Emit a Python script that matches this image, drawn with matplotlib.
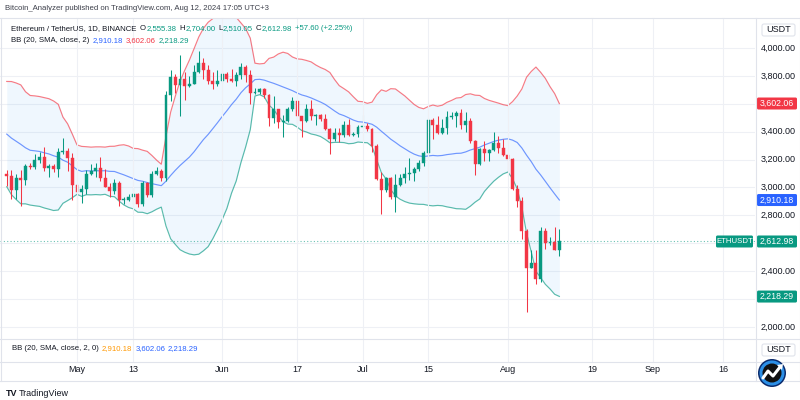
import matplotlib
matplotlib.use('Agg')
import matplotlib.pyplot as plt
import matplotlib.dates as mdates
import matplotlib.font_manager as fm
import matplotlib.transforms as mtransforms
from matplotlib.patches import FancyBboxPatch, Circle, Polygon
import numpy as np
import pandas as pd

available = {f.name for f in fm.fontManager.ttflist}
FONT = 'Liberation Sans Narrow' if 'Liberation Sans Narrow' in available else 'Liberation Sans'
NARROW = FONT == 'Liberation Sans Narrow'
plt.rcParams['font.family'] = [FONT, 'DejaVu Sans']

# ---------------- data ----------------
# closes before the first visible candle (needed for the 20-day Bollinger Bands)
prior_closes = [3560, 3510, 3505, 3645, 3505, 3280, 3310, 3330, 3320, 3390,
                3455, 3700, 3505, 3545, 3505, 3240, 3005, 3160, 3100]
first_day = '2024-04-16'
opens = [3100, 3085, 2985, 3065, 3055, 3155, 3147, 3200, 3220, 3140, 3155, 3130, 3255, 3265, 3215,
         3015, 2970, 2990, 3100, 3120, 3140, 3065, 3005, 2975, 3035, 2910, 2912, 2930, 2950, 2880,
         3035, 2945, 3095, 3120, 3070, 3660, 3790, 3735, 3780, 3725, 3745, 3825, 3890, 3840, 3765, 3745,
         3760, 3815, 3780, 3765, 3810, 3865, 3810, 3680, 3685, 3705, 3665, 3500, 3560, 3470, 3480,
         3565, 3620, 3510, 3480, 3560, 3515, 3520, 3490, 3420, 3350, 3390, 3375, 3445, 3375, 3380,
         3435, 3440, 3420, 3295, 3060, 2980, 3065, 2930, 3020, 3065, 3100, 3102, 3135, 3175, 3245,
         3485, 3445, 3390, 3425, 3505, 3515, 3535, 3445, 3480, 3335, 3170, 3275, 3250, 3270, 3320, 3280,
         3230, 3205, 2990, 2905, 2690, 2420, 2460, 2345, 2685, 2600, 2610, 2555.38]
highs = [3125, 3125, 3095, 3125, 3170, 3175, 3240, 3255, 3290, 3170, 3165, 3285, 3355, 3285, 3250,
         3025, 3020, 3125, 3170, 3175, 3220, 3130, 3030, 3060, 3050, 2935, 2955, 2995, 2960, 3045,
         3040, 3120, 3145, 3130, 3690, 3840, 3815, 3950, 3830, 3800, 3880, 3975, 3925, 3880, 3825, 3845,
         3835, 3830, 3850, 3830, 3890, 3880, 3840, 3710, 3715, 3715, 3670, 3655, 3560, 3520, 3580,
         3650, 3620, 3515, 3595, 3625, 3530, 3525, 3525, 3430, 3430, 3425, 3480, 3490, 3400, 3445,
         3520, 3460, 3430, 3310, 3110, 3075, 3075, 3100, 3095, 3145, 3210, 3150, 3200, 3260, 3500,
         3500, 3515, 3490, 3545, 3540, 3545, 3560, 3540, 3500, 3340, 3285, 3330, 3275, 3400, 3370, 3350,
         3245, 3215, 3015, 2935, 2700, 2555, 2550, 2720, 2710, 2645, 2720, 2704]
lows = [3010, 2920, 2915, 2865, 3020, 3130, 3130, 3175, 3120, 3075, 3110, 3075, 3240, 3115, 2910,
        2815, 2890, 2955, 3090, 3075, 3050, 3000, 2935, 2950, 2870, 2880, 2900, 2880, 2860, 2865,
        2930, 2930, 3090, 3050, 3050, 3620, 3680, 3510, 3630, 3720, 3740, 3820, 3775, 3740, 3705, 3725,
        3750, 3755, 3755, 3730, 3780, 3755, 3600, 3670, 3670, 3645, 3440, 3465, 3430, 3360, 3470,
        3545, 3465, 3360, 3470, 3485, 3445, 3480, 3415, 3240, 3335, 3325, 3365, 3370, 3370, 3365,
        3425, 3405, 3255, 3055, 2810, 2965, 2920, 2825, 3010, 3035, 3055, 3050, 3120, 3155, 3230,
        3350, 3380, 3380, 3380, 3490, 3435, 3420, 3400, 3320, 3090, 3160, 3190, 3190, 3260, 3250, 3225,
        3080, 2980, 2860, 2630, 2110, 2420, 2310, 2320, 2560, 2585, 2550, 2510.05]
closes = [3085, 2985, 3065, 3055, 3155, 3147, 3200, 3220, 3140, 3155, 3130, 3255, 3265, 3215, 3015,
          2970, 2990, 3100, 3120, 3140, 3065, 3005, 2975, 3035, 2910, 2912, 2930, 2950, 2880, 3035,
          2945, 3095, 3120, 3070, 3660, 3790, 3735, 3780, 3725, 3745, 3825, 3890, 3840, 3765, 3745, 3760,
          3815, 3780, 3765, 3810, 3865, 3810, 3680, 3685, 3705, 3665, 3500, 3560, 3470, 3480, 3565,
          3620, 3510, 3480, 3560, 3515, 3520, 3490, 3420, 3350, 3390, 3375, 3445, 3375, 3380, 3435,
          3440, 3420, 3295, 3060, 2980, 3065, 2930, 3020, 3065, 3100, 3102, 3135, 3175, 3245, 3485,
          3445, 3390, 3425, 3505, 3515, 3535, 3445, 3480, 3335, 3170, 3275, 3250, 3270, 3320, 3280, 3230,
          3205, 2990, 2905, 2690, 2420, 2460, 2345, 2685, 2600, 2610, 2555.38, 2612.98]

bb_length = 20
bb_mult = 2
# last Bollinger values as printed on the chart: basis, upper, lower
bb_last = [2910.18, 3602.06, 2218.29]
price_ticks = [2000, 2400, 2800, 3000, 3200, 3400, 3800, 4000]
grid_levels = [2000, 2200, 2400, 2600, 2800, 3000, 3200, 3400, 3600, 3800, 4000]
time_tick_dates = ['2024-05-01', '2024-05-13', '2024-06-01', '2024-06-17', '2024-07-01',
                   '2024-07-15', '2024-08-01', '2024-08-19', '2024-09-01', '2024-09-16']
time_tick_labels = ['May', '13', 'Jun', '17', 'Jul', '15', 'Aug', '19', 'Sep', '16']

header = 'Bitcoin_Analyzer published on TradingView.com, Aug 12, 2024 17:05 UTC+3'
symbol_title = 'Ethereum / TetherUS, 1D, BINANCE'
ohlc_text = [('O', '2,555.38'), ('H', '2,704.00'), ('L', '2,510.05'), ('C', '2,612.98')]
change_text = '+57.60 (+2.25%)'
bb_title = 'BB (20, SMA, close, 2)'
bb_title2 = 'BB (20, SMA, close, 2, 0)'

# ---------------- computation ----------------
dates = pd.date_range(first_day, periods=len(closes), freq='D')
xd = mdates.date2num(dates.to_pydatetime())
o = np.array(opens, float); h = np.array(highs, float)
l = np.array(lows, float); c = np.array(closes, float)
allc = pd.Series(prior_closes + closes, dtype=float)
basis = allc.rolling(bb_length).mean()
sd = allc.rolling(bb_length).std(ddof=0)
upper = (basis + bb_mult * sd).values[-len(closes):]
lower = (basis - bb_mult * sd).values[-len(closes):]
basis = basis.values[-len(closes):]

UP = '#089981'; DN = '#F23645'; BLUE = '#2962FF'; TXT = '#131722'; GRID = '#EEF0F5'; BORDER = '#E0E3EB'
LEG = 6.5 if NARROW else 5.6     # legend font size
AXF = 6.5                        # axis font size

W, H = 800, 400
fig = plt.figure(figsize=(8, 4), dpi=100)
fig.patch.set_facecolor('white')

def rect(x0, y0, x1, y1):
    return [x0 / W, 1 - y1 / H, (x1 - x0) / W, (y1 - y0) / H]

PANE_R = 755
ax = fig.add_axes(rect(0, 18, PANE_R, 338))
may1 = mdates.date2num(pd.Timestamp('2024-05-01').to_pydatetime())
px_per_day = 4.683
ax.set_xlim(may1 - 77 / px_per_day, may1 + (PANE_R - 77) / px_per_day)
ppx = 0.1395
ax.set_ylim(4000 - (338 - 48) / ppx, 4000 + (48 - 18) / ppx)
ax.axis('off')

for g in grid_levels:
    ax.axhline(g, color=GRID, lw=0.8, zorder=0)

ax.fill_between(xd, lower, upper, color='#2196F3', alpha=0.07, lw=0, zorder=1)
ax.plot(xd, upper, color=DN, lw=0.85, alpha=0.65, zorder=2)
ax.plot(xd, basis, color=BLUE, lw=0.85, alpha=0.65, zorder=2)
ax.plot(xd, lower, color=UP, lw=0.85, alpha=0.65, zorder=2)

cols = np.where(c >= o, UP, DN)
ax.vlines(xd, l, h, colors=cols, lw=0.75, zorder=3)
bot = np.minimum(o, c); hgt = np.maximum(np.abs(c - o), 4)
ax.bar(xd, hgt, bottom=bot, width=0.62, color=cols, edgecolor=cols, lw=0.3, zorder=4)

last = closes[-1]
ax.axhline(last, color=UP, lw=0.8, ls=(0, (1, 2)), alpha=0.6, zorder=2)

# overlay in pixel coordinates
ov = fig.add_axes([0, 0, 1, 1], zorder=10)
ov.set_xlim(0, W); ov.set_ylim(H, 0); ov.axis('off'); ov.patch.set_alpha(0)

def ypix(price):
    return H - ax.transData.transform((xd[0], price))[1]

blend = mtransforms.blended_transform_factory(ax.transData, ov.transData)
tick_x = mdates.date2num(pd.to_datetime(time_tick_dates).to_pydatetime())
for tx in tick_x:
    ov.plot([tx, tx], [18, 362], color=GRID, lw=0.8, transform=blend, zorder=0)
for tx, lab in zip(tick_x, time_tick_labels):
    ov.text(tx, 369.5, lab, transform=blend, ha='center', va='center', fontsize=AXF, color=TXT)

# frame lines
for yy in (17.5, 338.5, 361.5, 380.5):
    ov.plot([0, W], [yy, yy], color=BORDER, lw=0.8)
for xx in (0.5, PANE_R + 0.5, W - 0.5):
    ov.plot([xx, xx], [17.5, 380.5], color=BORDER, lw=0.8)

for p in price_ticks:
    ov.text(778, ypix(p), f'{p:,.2f}', ha='center', va='center', fontsize=AXF, color=TXT)

def usdt_box(yc):
    ov.add_patch(FancyBboxPatch((762, yc - 6), 33, 12, boxstyle='round,pad=0,rounding_size=2',
                                fc='white', ec=BORDER, lw=0.8))
    ov.text(778.5, yc, 'USDT', ha='center', va='center', fontsize=AXF, color=TXT)
usdt_box(30)
usdt_box(350)

def price_box(value, color, x0=757, x1=797, text=None, fs=6.3):
    yc = ypix(value)
    ov.add_patch(FancyBboxPatch((x0, yc - 6), x1 - x0, 12, boxstyle='round,pad=0,rounding_size=1.5',
                                fc=color, ec='none'))
    ov.text((x0 + x1) / 2, yc, text if text else f'{value:,.2f}', ha='center', va='center',
            fontsize=fs, color='white')

price_box(bb_last[1], DN)
price_box(bb_last[0], BLUE)
price_box(last, UP)
price_box(bb_last[2], UP)
price_box(last, UP, 716, 753, 'ETHUSDT', fs=5.6)

renderer = fig.canvas.get_renderer()
def chain(x, y, pieces, size, gap=3.0):
    for s, col in pieces:
        t = ov.text(x, y, s, color=col, fontsize=size, va='center', ha='left')
        x += t.get_window_extent(renderer).width + gap
    return x

vals = [f'{v:,.2f}' for v in bb_last]
chain(5, 8, [(header, '#3C3F4A')], LEG)
x = chain(11, 29, [(symbol_title, TXT)], LEG, gap=3.5)
for k, v in ohlc_text:
    x = chain(x, 29, [(k, TXT)], LEG, gap=0.4)
    x = chain(x, 29, [(v, UP)], LEG, gap=3)
chain(x, 29, [(change_text, UP)], LEG)
chain(11, 41, [(bb_title, TXT), (vals[0], BLUE), (vals[1], DN), (vals[2], UP)], LEG)
chain(12, 349, [(bb_title2, TXT), (vals[0], '#FF9800'), (vals[1], BLUE), (vals[2], BLUE)], LEG)

# TradingView logo
ov.text(6, 393, 'TV', ha='left', va='center', fontsize=6.5, fontweight='bold', color=TXT)
ov.text(19, 393, 'TradingView', ha='left', va='center', fontsize=6.5, color=TXT)

# badge
ov.add_patch(Circle((772, 373), 14, fc='#0A2A6B', ec='none', zorder=20))
ov.add_patch(Circle((772, 373), 12.5, fc='#2C8FE6', ec='none', zorder=21))
ov.add_patch(Circle((772, 373), 9.5, fc='#111111', ec='none', zorder=22))
ov.plot([763, 768, 773, 780], [378, 371, 376, 367], color='white', lw=2.2, zorder=23, solid_capstyle='round')
ov.add_patch(Polygon([[777, 365], [783, 364], [782, 370]], closed=True, fc='white', ec='none', zorder=23))

fig.savefig('out.png', dpi=100)
